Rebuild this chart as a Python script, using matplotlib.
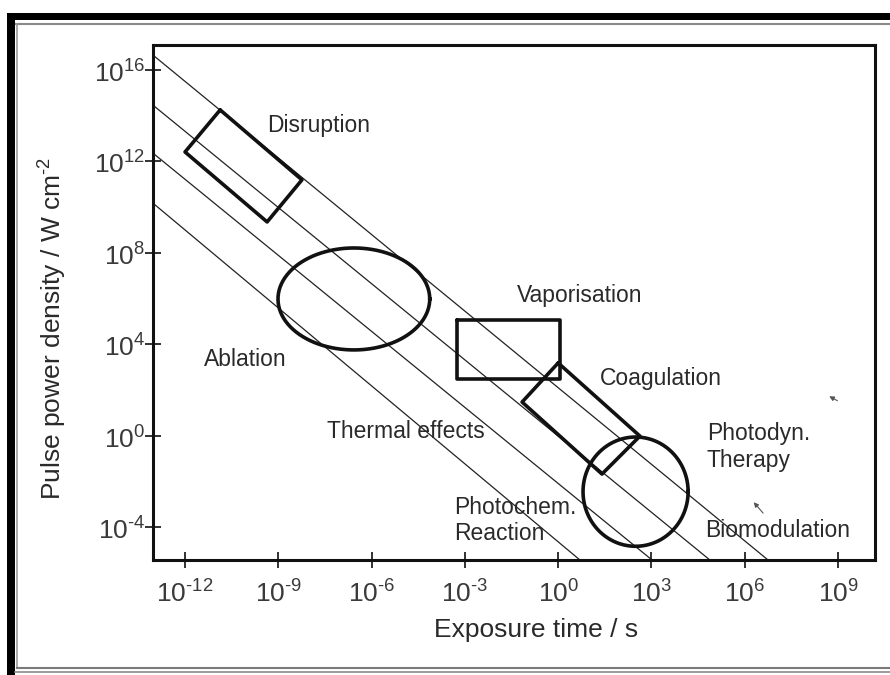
import numpy as np
import matplotlib
matplotlib.use("Agg")
import matplotlib.pyplot as plt
from matplotlib.lines import Line2D
from matplotlib.patches import Rectangle
from matplotlib.ticker import FuncFormatter

plt.rcParams["font.family"] = ["Liberation Sans", "DejaVu Sans"]
plt.rcParams["mathtext.fontset"] = "custom"
plt.rcParams["mathtext.rm"] = "Liberation Sans"
plt.rcParams["axes.unicode_minus"] = False

# all values are log10 exponents
x_ticks = [-12, -9, -6, -3, 0, 3, 6, 9]
y_ticks = [-4, 0, 4, 8, 12, 16]
x_lim = (-13.03, 10.19)
y_lim = (-5.44, 17.09)

# constant-fluence diagonals: (t0, I0) -> (t1, I1)
diag_t0 = [-12.96, -12.96, -12.96, -12.96]
diag_i0 = [16.57, 14.38, 12.28, 10.09]
diag_t1 = [6.75, 4.88, 3.02, 0.70]
diag_i1 = [-5.44, -5.44, -5.44, -5.44]

# boxed regions (corner exponents)
disruption_t = [-10.87, -8.24, -9.36, -12.0]
disruption_i = [14.25, 11.19, 9.35, 12.41]
vapor_t = [-3.25, 0.06, 0.06, -3.25]
vapor_i = [5.06, 5.06, 2.48, 2.48]
coag_t = [0.0, 2.63, 1.41, -1.16]
coag_i = [3.18, -0.02, -1.68, 1.47]

# elliptical regions: centre and half-widths in decades
ablation = dict(t=-6.57, i=5.98, rt=2.44, ri=2.23)
pdt = dict(t=2.49, i=-2.45, rt=1.69, ri=2.39)

labels = ["Disruption", "Ablation", "Thermal effects", "Vaporisation",
          "Coagulation", "Photodyn.\nTherapy", "Photochem.\nReaction",
          "Biomodulation"]
label_t = [-9.36, -11.39, -7.43, -1.32, 1.34, 4.78, -3.35, 4.72]
label_i = [13.55, 3.31, 0.20, 6.11, 2.52, -0.50, -3.72, -4.17]

fig = plt.figure(figsize=(8.9, 6.75), dpi=100)
ax = fig.add_axes([153 / 890, 1 - 560 / 675, (875 - 153) / 890, (560 - 45) / 675])
ax.set_xscale("log")
ax.set_yscale("log")
ax.set_xlim(10 ** x_lim[0], 10 ** x_lim[1])
ax.set_ylim(10 ** y_lim[0], 10 ** y_lim[1])

for t0, i0, t1, i1 in zip(diag_t0, diag_i0, diag_t1, diag_i1):
    ax.plot([10 ** t0, 10 ** t1], [10 ** i0, 10 ** i1], color="#222222", lw=0.9)

for ts, js in [(disruption_t, disruption_i), (vapor_t, vapor_i), (coag_t, coag_i)]:
    ts = ts + ts[:1]
    js = js + js[:1]
    ax.plot(10 ** np.array(ts), 10 ** np.array(js), color="#111111", lw=2.6,
            solid_joinstyle="round", solid_capstyle="round")

th = np.linspace(0, 2 * np.pi, 300)
for e in (ablation, pdt):
    ax.plot(10 ** (e["t"] + e["rt"] * np.cos(th)), 10 ** (e["i"] + e["ri"] * np.sin(th)),
            color="#111111", lw=2.6)

for s, t, i in zip(labels, label_t, label_i):
    ax.text(10 ** t, 10 ** i, s, fontsize=16.5, color="#2a2a2a",
            ha="left", va="center", linespacing=1.2)

# small pen marks on the scan
for (tt, ti), (ht, hi) in [((6.65, -3.48), (6.23, -2.82)), ((9.06, 1.47), (8.64, 1.78))]:
    ax.annotate("", xy=(10 ** ht, 10 ** hi), xytext=(10 ** tt, 10 ** ti),
                arrowprops=dict(arrowstyle="-|>", color="#555555", lw=0.8,
                                mutation_scale=7))


def pow10(v, pos):
    e = int(round(np.log10(v)))
    return "10$^{\\text{%d}}$" % e


ax.set_xticks([10.0 ** v for v in x_ticks])
ax.set_yticks([10.0 ** v for v in y_ticks])
ax.minorticks_off()
ax.xaxis.set_major_formatter(FuncFormatter(pow10))
ax.yaxis.set_major_formatter(FuncFormatter(pow10))
ax.tick_params(axis="both", direction="inout", length=11, width=1.3,
               labelsize=19, labelcolor="#3a3a3a", color="#222222")
ax.tick_params(axis="x", pad=8)
ax.tick_params(axis="y", pad=0)
for sp in ax.spines.values():
    sp.set_linewidth(2.2)
    sp.set_color("#111111")

ax.set_xlabel("Exposure time / s", fontsize=19, color="#2a2a2a")
ax.set_ylabel("Pulse power density / W cm$^{\\text{-2}}$", fontsize=19, color="#2a2a2a")
ax.xaxis.set_label_coords(0.530, -0.113)
ax.yaxis.set_label_coords(-0.118, 0.45)

# scanned frame around the figure
fig.add_artist(Rectangle((7 / 890, 1 - 20 / 675), 1, 7 / 675, transform=fig.transFigure,
                         color="black", lw=0))
fig.add_artist(Rectangle((7 / 890, 0), 8 / 890, 1 - 13 / 675, transform=fig.transFigure,
                         color="black", lw=0))
fig.add_artist(Line2D([16 / 890, 1], [1 - 24 / 675] * 2, transform=fig.transFigure,
                      color="#8a8a8a", lw=1.5))
fig.add_artist(Line2D([17 / 890] * 2, [1 - 24 / 675, 1 - 668 / 675],
                      transform=fig.transFigure, color="#9a9a9a", lw=1.2))
fig.add_artist(Line2D([17 / 890, 1], [1 - 668 / 675] * 2, transform=fig.transFigure,
                      color="#7a7a7a", lw=1.5))
fig.add_artist(Line2D([15 / 890, 1], [1 - 672 / 675] * 2, transform=fig.transFigure,
                      color="#8a8a8a", lw=1.2))

fig.savefig("out.png", dpi=100)
